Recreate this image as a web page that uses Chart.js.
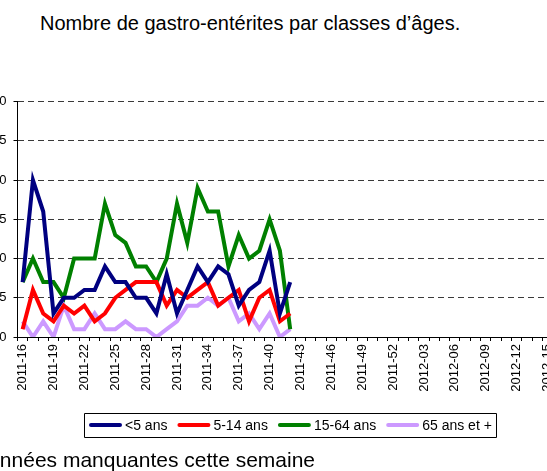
<!DOCTYPE html>
<html>
<head>
<meta charset="utf-8">
<script src="https://cdn.jsdelivr.net/npm/chart.js@4.4.1/dist/chart.umd.min.js"></script>
<style>
  html, body { margin: 0; padding: 0; background: #fff; overflow: hidden; }
  body { width: 547px; height: 471px; position: relative; font-family: Arial, "Liberation Sans", sans-serif; color: #000; }
  #title { position: absolute; left: 40px; top: 12px; font-size: 20px; white-space: nowrap; }
  #note { position: absolute; left: -27px; top: 448px; font-size: 21px; white-space: nowrap; }
  #chart { position: absolute; left: -40px; top: 0; }
</style>
</head>
<body>
<div id="title">Nombre de gastro-entérites par classes d’âges.</div>
<canvas id="chart" width="620" height="471"></canvas>
<div id="note">Données manquantes cette semaine</div>
<script>
// semaines 2011-16 .. 2012-15
const weeks = [
  '2011-16','2011-17','2011-18','2011-19','2011-20','2011-21','2011-22','2011-23','2011-24','2011-25',
  '2011-26','2011-27','2011-28','2011-29','2011-30','2011-31','2011-32','2011-33','2011-34','2011-35',
  '2011-36','2011-37','2011-38','2011-39','2011-40','2011-41','2011-42','2011-43','2011-44','2011-45',
  '2011-46','2011-47','2011-48','2011-49','2011-50','2011-51','2011-52','2012-01','2012-02','2012-03',
  '2012-04','2012-05','2012-06','2012-07','2012-08','2012-09','2012-10','2012-11','2012-12','2012-13',
  '2012-14','2012-15'
];

const seriesNames = ['<5 ans', '5-14 ans', '15-64 ans', '65 ans et +'];
const seriesColors = ['#000080', '#ff0000', '#008000', '#cc99ff'];

const under5 = [7,20,16,3,5,5,6,6,9,7,7,5,5,3,8,3,6,9,7,9,8,4,6,7,11,3,7];
const age5to14 = [1,6,3,2,4,3,4,2,3,5,6,7,7,7,4,6,5,6,7,4,5,6,2,5,6,2,3];
const age15to64 = [7,10,7,7,5,10,10,10,17,13,12,9,9,7,10,17,12,19,16,16,9,13,10,11,15,11,1];
const over65 = [2,0,2,0,4,1,1,3,1,1,2,1,1,0,1,2,4,4,5,4,5,2,3,1,3,0,1];

const yTicks = [0, 5, 10, 15, 20, 25, 30];

const fontFamily = 'Arial, "Liberation Sans", sans-serif';
Chart.defaults.font.family = fontFamily;
Chart.defaults.color = '#000';

const allSeries = [under5, age5to14, age15to64, over65];

// legende encadree, dessinee sur le canvas
const legendBox = {
  id: 'legendBox',
  afterDraw(chart) {
    const ctx = chart.ctx;
    const sample = 33, gap = 3, spacing = 10;
    const cx = 330, cy = 425;
    ctx.save();
    ctx.font = '14px ' + fontFamily;
    ctx.textBaseline = 'middle';
    const items = chart.data.datasets.map(ds => ({
      color: ds.borderColor, text: ds.label, w: ctx.measureText(ds.label).width
    }));
    const total = items.reduce((s, it) => s + sample + gap + it.w, 0) + spacing * (items.length - 1);
    const left = Math.round(cx - total / 2);
    let x = left;
    items.forEach(it => {
      ctx.strokeStyle = it.color;
      ctx.lineWidth = 4;
      ctx.lineCap = 'round';
      ctx.beginPath();
      ctx.moveTo(x + 2, cy);
      ctx.lineTo(x + sample - 2, cy);
      ctx.stroke();
      ctx.fillStyle = '#000';
      ctx.fillText(it.text, x + sample + gap, cy + 1);
      x += sample + gap + it.w + spacing;
    });
    ctx.setLineDash([]);
    ctx.lineCap = 'butt';
    ctx.strokeStyle = '#000';
    ctx.lineWidth = 1;
    ctx.beginPath();
    ctx.rect(left - 4.5, cy - 11.5, Math.round(total + 9), 24);
    ctx.stroke();
    ctx.restore();
  }
};

new Chart(document.getElementById('chart').getContext('2d'), {
  type: 'line',
  data: {
    labels: weeks,
    datasets: seriesNames.map((name, i) => ({
      label: name,
      data: allSeries[i],
      borderColor: seriesColors[i],
      backgroundColor: seriesColors[i],
      borderWidth: 4,
      pointRadius: 0,
      tension: 0,
      fill: false
    }))
  },
  options: {
    responsive: false,
    devicePixelRatio: 1,
    animation: false,
    events: [],
    layout: { padding: { left: 0, right: 27.4, top: 101.7, bottom: 74 } },
    plugins: {
      legend: { display: false },
      tooltip: { enabled: false }
    },
    scales: {
      x: {
        offset: true,
        grid: { offset: true, drawOnChartArea: false, drawTicks: true, tickLength: 4, color: '#000' },
        border: { color: '#000', width: 1 },
        ticks: {
          autoSkip: false,
          maxRotation: 90,
          minRotation: 90,
          padding: 3,
          font: { size: 13 },
          callback: (val, idx) => idx % 3 === 0 ? weeks[idx] : ''
        },
        afterFit: s => { s.height = 60; }
      },
      y: {
        min: 0,
        max: 30,
        afterBuildTicks: s => { s.ticks = yTicks.map(v => ({ value: v })); },
        grid: { color: '#3a3a3a', tickColor: '#000', tickLength: 4 },
        border: { color: '#000', width: 1, dash: [6, 4] },
        ticks: { padding: 7, font: { size: 13 } },
        afterFit: s => { s.width = 57.5; }
      }
    }
  },
  plugins: [legendBox]
});
</script>
</body>
</html>
